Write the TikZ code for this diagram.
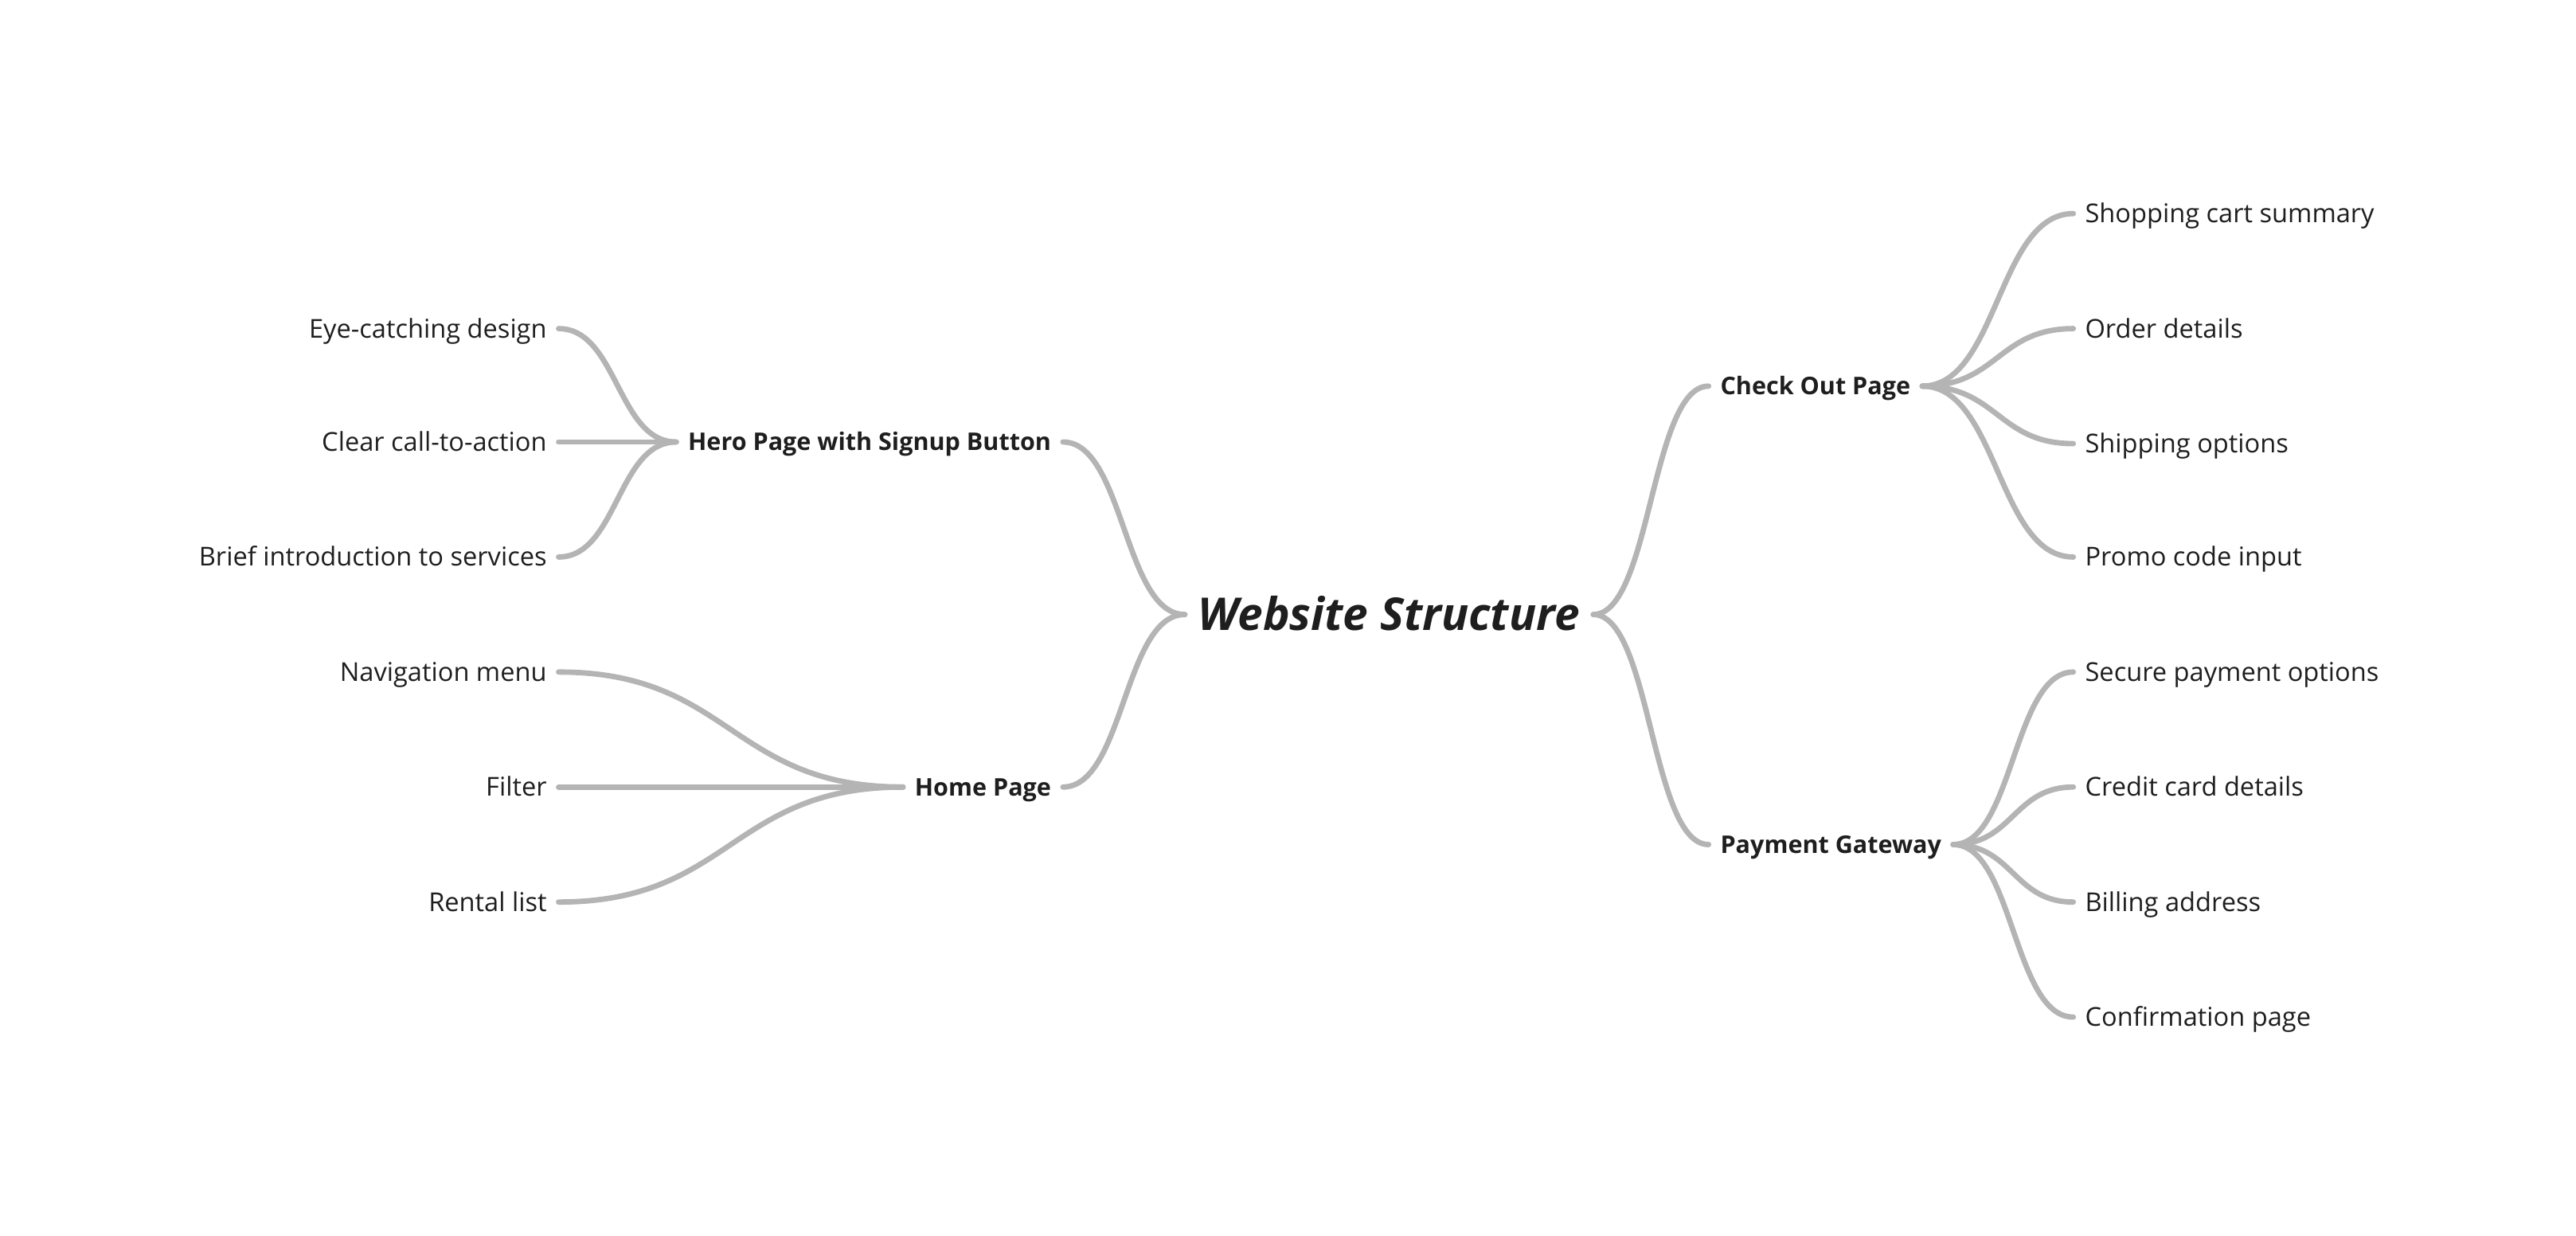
\documentclass[tikz,border=0pt]{standalone}
\usepackage{fontspec}
\setmainfont{Open Sans}
\usetikzlibrary{calc}
\definecolor{lc}{HTML}{B4B4B4}
\definecolor{tc}{HTML}{1E1E1E}
\begin{document}
\begin{tikzpicture}[x=1pt,y=-1pt,
  leaf/.style={font=\fontsize{15.8}{18}\selectfont, text=tc, inner xsep=7pt, inner ysep=0pt, text height=11.2pt, text depth=0pt},
  lleaf/.style={leaf, anchor=east},
  rleaf/.style={leaf, anchor=west},
  branch/.style={leaf, font=\fontsize{14.8}{18}\selectfont\bfseries, text height=10.6pt},
  lbranch/.style={branch, anchor=east},
  rbranch/.style={branch, anchor=west},
  rootnode/.style={font=\fontsize{27.5}{32}\selectfont\bfseries\itshape, text=tc, inner xsep=8pt, inner ysep=0pt, text height=19.5pt, text depth=0pt},
  conn/.style={draw=lc, line width=3.3pt, line cap=round},
  sc/.style={to path={let \p1=(\tikztostart), \p2=(\tikztotarget) in .. controls ({(\x1+\x2)/2},\y1) and ({(\x1+\x2)/2},\y2) .. (\tikztotarget)}}
]
\useasboundingbox (0,0) rectangle (1568,752);
\node[rootnode] (ws) at (845.5,374) {Website Structure};

\node[lbranch] (hero) at (647,269) {Hero Page with Signup Button};
\node[lbranch] (home) at (647,479) {Home Page};
\node[rbranch] (chk) at (1040,235) {Check Out Page};
\node[rbranch] (pay) at (1040,514) {Payment Gateway};

\node[lleaf] (l1) at (340,200) {Eye-catching design};
\node[lleaf] (l2) at (340,269) {Clear call-to-action};
\node[lleaf] (l3) at (340,339) {Brief introduction to services};
\node[lleaf] (l4) at (340,409) {Navigation menu};
\node[lleaf] (l5) at (340,479) {Filter};
\node[lleaf] (l6) at (340,549) {Rental list};

\node[rleaf] (r1) at (1262,130) {Shopping cart summary};
\node[rleaf] (r2) at (1262,200) {Order details};
\node[rleaf] (r3) at (1262,270) {Shipping options};
\node[rleaf] (r4) at (1262,339) {Promo code input};
\node[rleaf] (r5) at (1262,409) {Secure payment options};
\node[rleaf] (r6) at (1262,479) {Credit card details};
\node[rleaf] (r7) at (1262,549) {Billing address};
\node[rleaf] (r8) at (1262,619) {Confirmation page};

\foreach \q in {hero,home} \draw[conn] (ws.west) to[sc] (\q.east);
\foreach \q in {chk,pay} \draw[conn] (ws.east) to[sc] (\q.west);
\foreach \q in {l1,l2,l3} \draw[conn] (hero.west) to[sc] (\q.east);
\foreach \q in {l4,l5,l6} \draw[conn] (home.west) to[sc] (\q.east);
\foreach \q in {r1,r2,r3,r4} \draw[conn] (chk.east) to[sc] (\q.west);
\foreach \q in {r5,r6,r7,r8} \draw[conn] (pay.east) to[sc] (\q.west);
\end{tikzpicture}
\end{document}
